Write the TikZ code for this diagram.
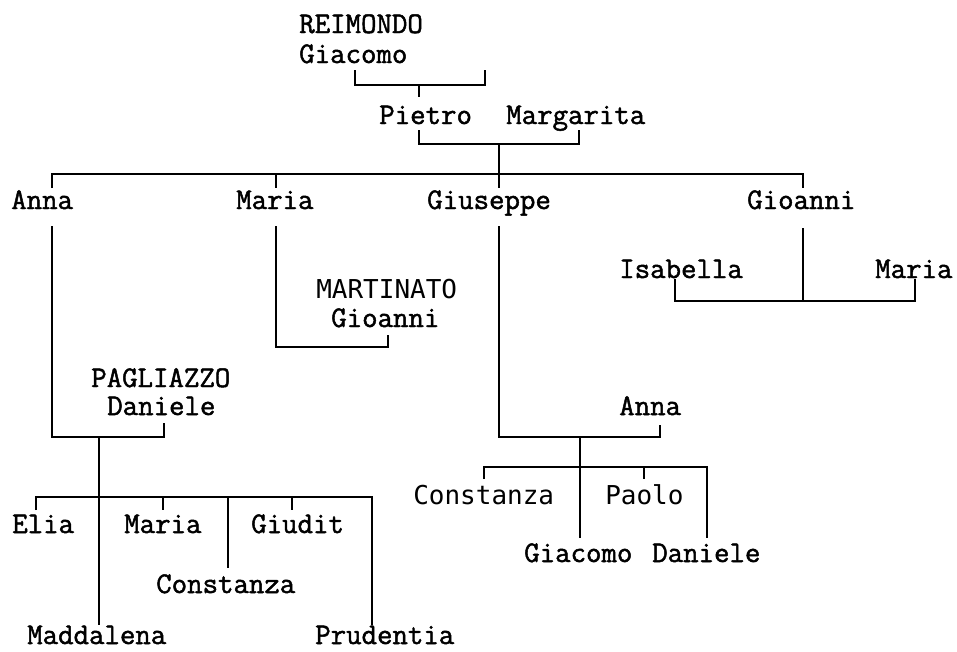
\documentclass[tikz,border=0pt]{standalone}
\usepackage{fontspec}
\newfontfamily\serifmono[FakeBold=1.6]{Latin Modern Mono}
\newfontfamily\sansmono{DejaVu Sans Mono}
\tikzset{
  person/.style  = {font=\serifmono\fontsize{22.5}{24}\selectfont, anchor=base west, inner sep=0pt},
  sperson/.style = {font=\sansmono\fontsize{19.5}{21}\selectfont, anchor=base west, inner sep=0pt},
  link/.style    = {draw=black, line width=1.4pt},
}
\begin{document}
\begin{tikzpicture}[x=0.75pt, y=-0.75pt]
\useasboundingbox (0,0) rectangle (957,651);

% first generations
\node[person] (reimondo) at (299,33) {REIMONDO};
\node[person] (giacomo) at (299,63) {Giacomo};
\node[person] (pietro) at (379,124) {Pietro};
\node[person] (margarita) at (506,124) {Margarita};

% children of Pietro and Margarita
\node[person] (anna) at (11,209) {Anna};
\node[person] (maria) at (236,209) {Maria};
\node[person] (giuseppe) at (427,209) {Giuseppe};
\node[person] (gioanni) at (747,209) {Gioanni};

% line of Gioanni
\node[person] (isabella) at (619,278) {Isabella};
\node[person] (mariaB) at (875,278) {Maria};

% line of Maria
\node[sperson] (martinato) at (316,298) {MARTINATO};
\node[person] (gioanniM) at (331,327) {Gioanni};

% line of Anna
\node[person] (pagliazzo) at (91,387) {PAGLIAZZO};
\node[person] (daniele) at (107,415) {Daniele};
\node[person] (elia) at (12,533) {Elia};
\node[person] (mariaP) at (124,533) {Maria};
\node[person] (giudit) at (251,533) {Giudit};
\node[person] (constanzaP) at (156,593) {Constanza};
\node[person] (maddalena) at (27,644) {Maddalena};
\node[person] (prudentia) at (315,644) {Prudentia};

% line of Giuseppe
\node[person] (annaG) at (619,415) {Anna};
\node[sperson] (constanzaG) at (413,504) {Constanza};
\node[sperson] (paolo) at (605,504) {Paolo};
\node[person] (giacomoG) at (524,562) {Giacomo};
\node[person] (danieleG) at (652,562) {Daniele};

% junctions
\coordinate (j0) at (419,85);
\coordinate (j1) at (499,144);
\coordinate (jA) at (99,437);
\coordinate (jG) at (580,437);
\coordinate (jI) at (803,301);

% brackets and descent lines
\draw[link] (355,70) |- (485,85) -- (485,70);
\draw[link] (j0) -- (419,97);
\draw[link] (419,130) |- (579,144) -- (579,130);
\draw[link] (j1) -- (499,188);
\draw[link] (52,188) |- (803,174) -- (803,188);
\draw[link] (276,174) -- (276,188);

\draw[link] (52,226) |- (164,437) -- (164,423);
\draw[link] (276,226) |- (388,347) -- (388,335);
\draw[link] (499,226) |- (660,437) -- (660,425);
\draw[link] (803,228) -- (jI);
\draw[link] (675,279) |- (915,301) -- (915,279);

% children of Anna and Daniele
\draw[link] (jA) -- (99,625);
\draw[link] (36,510) |- (372,497) -- (372,625);
\draw[link] (163,497) -- (163,510);
\draw[link] (228,497) -- (228,568);
\draw[link] (292,497) -- (292,510);

% children of Giuseppe and Anna
\draw[link] (jG) -- (580,538);
\draw[link] (484,479) |- (707,467) -- (707,538);
\draw[link] (644,467) -- (644,479);

\end{tikzpicture}
\end{document}
